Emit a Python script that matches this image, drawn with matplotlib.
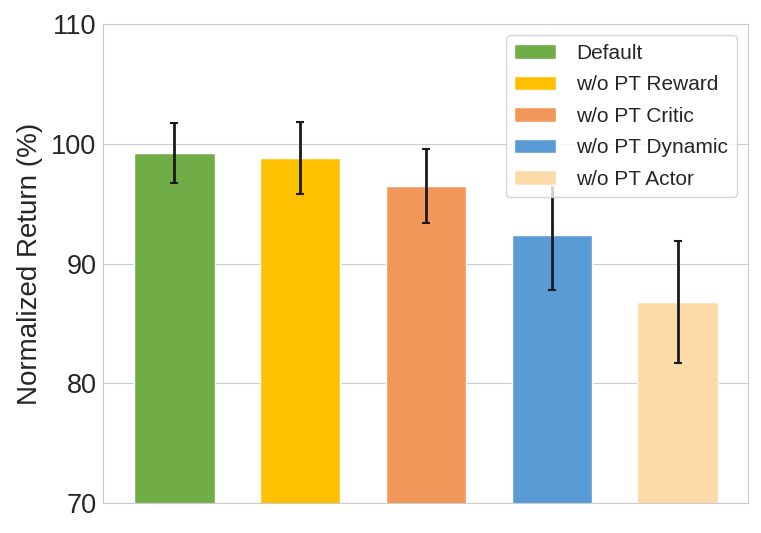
import matplotlib.pyplot as plt
import seaborn as sns
import numpy as np

labels = ['Default', 'w/o PT Reward', 'w/o PT Critic', 'w/o PT Dynamic', 'w/o PT Actor']
means = [99.2, 98.8, 96.5, 92.4, 86.8]
errs = [2.5, 3.0, 3.1, 4.6, 5.1]
colors = ['#70AD47', '#FFC000', '#F19759', '#5B9BD5', '#FCDBA9']

sns.set_style('whitegrid')
plt.rcParams['font.family'] = ['Liberation Sans', 'DejaVu Sans']

fig, ax = plt.subplots(figsize=(7.61, 5.33), dpi=100)
x = np.arange(len(labels))
for i in range(len(labels)):
    ax.bar(x[i], means[i], width=0.64, color=colors[i], edgecolor='white',
           linewidth=1, label=labels[i], zorder=2)
    ax.errorbar(x[i], means[i], yerr=errs[i], fmt='none', ecolor='#1a1a1a',
                elinewidth=2, capsize=3, capthick=1.5, zorder=3)

ax.set_ylim(70, 110)
ax.set_xlim(-0.57, 4.56)
ax.set_yticks([70, 80, 90, 100, 110])
ax.set_xticks([])
ax.tick_params(axis='y', labelsize=19.5, pad=1)
ax.set_ylabel('Normalized Return (%)', fontsize=20, labelpad=6)
for s in ax.spines.values():
    s.set_color('#cccccc')
leg = ax.legend(loc='upper right', fontsize=15, handlelength=2.0,
                handletextpad=1.0, labelspacing=0.6, borderaxespad=0.55,
                frameon=True)
leg.set_zorder(5)

plt.subplots_adjust(left=0.135, right=0.983, top=0.955, bottom=0.056)
fig.savefig('out.png', dpi=100)
